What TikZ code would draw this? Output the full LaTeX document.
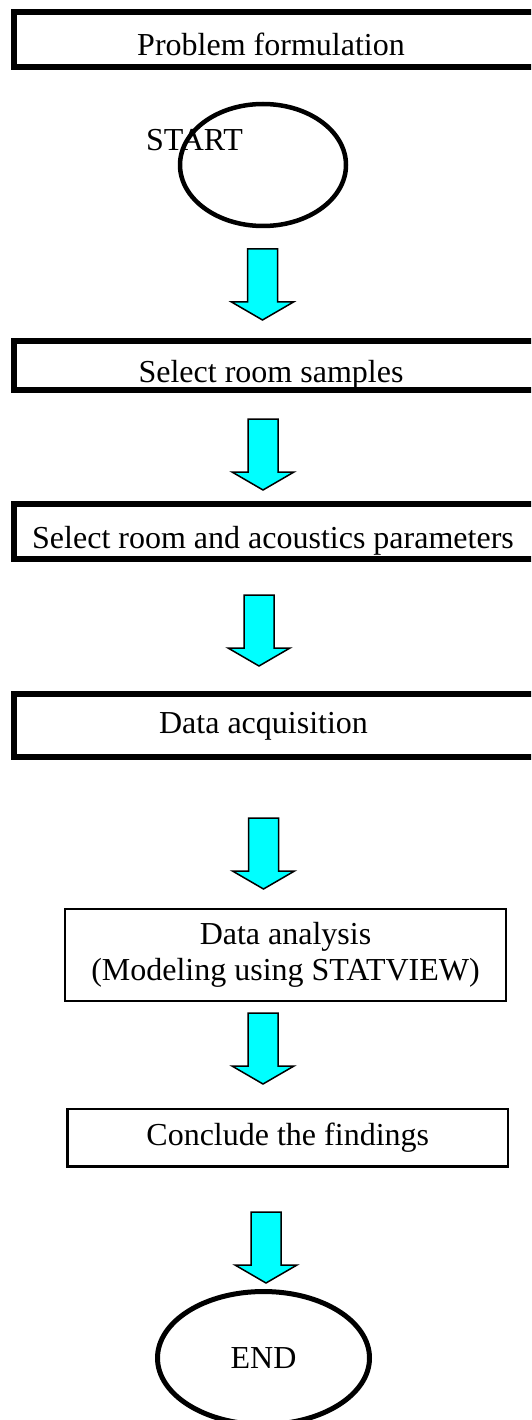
\documentclass[tikz,border=0pt]{standalone}
\usepackage{fontspec}
\setmainfont{Liberation Serif}
\usetikzlibrary{shapes.geometric}
\definecolor{flowcyan}{RGB}{0,255,255}

\begin{document}
\begin{tikzpicture}[x=1pt,y=-1pt,
  bigfont/.style={font=\fontsize{32}{36}\selectfont},
  caption/.style={bigfont, inner sep=0pt, anchor=base},
  thickframe/.style={draw, line width=6pt, inner sep=0pt, outer sep=0pt,
                     anchor=north west, minimum width=540pt},
  thinframe/.style={draw, line width=2.5pt, bigfont, align=center, inner sep=0pt},
  terminal/.style={draw, ellipse, inner sep=0pt},
  blockarrow/.pic={
    \draw[fill=flowcyan, line width=1.5pt, line join=miter]
      (-15,0) -- (15,0) -- (15,53) -- (31,53) -- (0,71) -- (-31,53) -- (-15,53) -- cycle;
  }]
  \useasboundingbox (0,0) rectangle (531,1420);
  \clip (0,0) rectangle (531,1420);

  % heavy frames, open past the right margin
  \node[thickframe, minimum height=55pt] (box1) at (14,12) {};
  \node[caption] (t1) at (271,56) {Problem formulation};

  % start terminal
  \node[terminal, line width=4.5pt, minimum width=166pt, minimum height=122pt] (start) at (263,165) {};
  \node[caption] (startlabel) at (194.5,151) {START};

  \pic (a1) at (262.5,249) {blockarrow};

  \node[thickframe, minimum height=49pt] (box2) at (14,341) {};
  \node[caption] (t2) at (271,382) {Select room samples};

  \pic (a2) at (263,419) {blockarrow};

  \node[thickframe, minimum height=55pt] (box3) at (14,504) {};
  \node[caption] (t3) at (273,548) {Select room and acoustics parameters};

  \pic (a3) at (259,595) {blockarrow};

  \node[thickframe, minimum height=63pt] (box4) at (14,694) {};
  \node[caption] (t4) at (263.5,733) {Data acquisition};

  \pic (a4) at (263.5,818) {blockarrow};

  % thin boxes
  \node[thinframe, minimum width=441pt, minimum height=92pt] (analysis) at (285.5,955)
    {Data analysis\\(Modeling using STATVIEW)};

  \pic (a5) at (263,1013) {blockarrow};

  \node[thinframe, minimum width=440.5pt, minimum height=57.5pt] (conclude) at (287.75,1137.5)
    {Conclude the findings};

  \pic (a6) at (266,1212) {blockarrow};

  % end terminal
  \node[terminal, bigfont, line width=5pt, minimum width=212pt, minimum height=133pt] (finish) at (263.5,1358) {END};
\end{tikzpicture}
\end{document}
